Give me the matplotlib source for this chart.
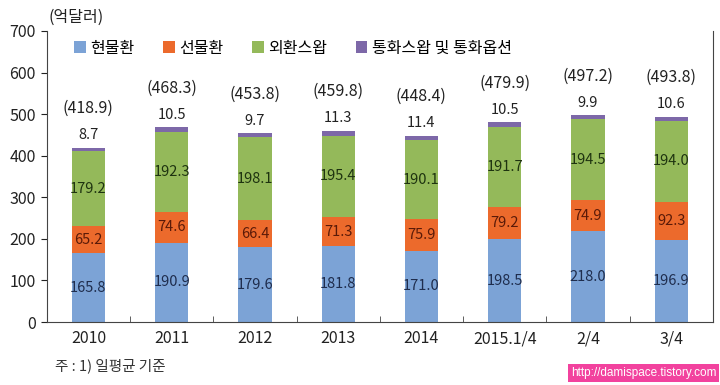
# FX market daily average turnover by instrument (stacked bars)

import numpy as np
import matplotlib.pyplot as plt

plt.rcParams['font.family'] = ['Noto Sans CJK KR', 'DejaVu Sans']

categories = ["2010", "2011", "2012", "2013", "2014", "2015.1/4", "2/4", "3/4"]
spot = [165.8, 190.9, 179.6, 181.8, 171.0, 198.5, 218.0, 196.9]
forward = [65.2, 74.6, 66.4, 71.3, 75.9, 79.2, 74.9, 92.3]
fx_swap = [179.2, 192.3, 198.1, 195.4, 190.1, 191.7, 194.5, 194.0]
ccs_opt = [8.7, 10.5, 9.7, 11.3, 11.4, 10.5, 9.9, 10.6]
totals = [418.9, 468.3, 453.8, 459.8, 448.4, 479.9, 497.2, 493.8]
series_names = ["현물환", "선물환", "외환스왑", "통화스왑 및 통화옵션"]

colors = ["#7ca3d6", "#ec6a2c", "#94b95a", "#7d68a8"]
text_colors = ["#1f2d4d", "#5a1a08", "#1e3310"]

fig = plt.figure(figsize=(7.2, 3.85), dpi=100)
ax = fig.add_axes([0.065, 0.1636, 0.925, 0.756])

x = np.arange(len(categories))
bottom = np.zeros(len(categories))
for i, vals in enumerate([spot, forward, fx_swap, ccs_opt]):
    bars = ax.bar(x, vals, width=0.4, bottom=bottom, color=colors[i],
                  label=series_names[i], zorder=2)
    for xi, b, v in zip(x, bottom, vals):
        if i < 3:
            ax.text(xi, b + v / 2, f"{v:.1f}", ha='center', va='center',
                    fontsize=10.5, color=text_colors[i])
        else:
            ax.annotate(f"{v:.1f}", (xi, b + v), xytext=(0, 4),
                        textcoords='offset points', ha='center', va='bottom',
                        fontsize=10.5, color='#222222')
    bottom += np.array(vals)

for xi, t in zip(x, totals):
    ax.annotate(f"({t:.1f})", (xi, t), xytext=(0, 22), textcoords='offset points',
                ha='center', va='bottom', fontsize=11.5, color='#222222')

ax.set_xlim(-0.5, len(categories) - 0.5)
ax.set_ylim(0, 700)
ax.set_yticks(range(0, 701, 100))
ax.set_xticks(x)
ax.set_xticklabels(categories)
ax.set_xticks(np.arange(-0.5, len(categories) + 0.5, 1), minor=True)
ax.tick_params(axis='x', which='major', length=0, labelsize=11.5, pad=6, colors='#222222')
ax.tick_params(axis='x', which='minor', length=4, direction='in', color='#444444')
ax.tick_params(axis='y', length=4, labelsize=11.5, colors='#222222', pad=4)
ax.spines['top'].set_visible(False)
for s in ['left', 'right', 'bottom']:
    ax.spines[s].set_color('#444444')
    ax.spines[s].set_linewidth(0.8)

ax.legend(loc='upper left', bbox_to_anchor=(0.02, 1.02), ncol=4, frameon=False,
          fontsize=11.5, handlelength=0.7, handleheight=0.7, handletextpad=0.3,
          columnspacing=1.8)

fig.text(0.067, 0.955, "(억달러)", fontsize=11.5, color='#222222', va='center')
fig.text(0.077, 0.05, "주 : 1) 일평균 기준", fontsize=10.5, color='#333333', va='center')
fig.text(0.995, 0.03, "http://damispace.tistory.com", fontsize=8.5, color='white',
         ha='right', va='center', family='Liberation Sans',
         bbox=dict(boxstyle='square,pad=0.25', facecolor='#f2429e', edgecolor='none'))

fig.savefig("out.png", dpi=100)
